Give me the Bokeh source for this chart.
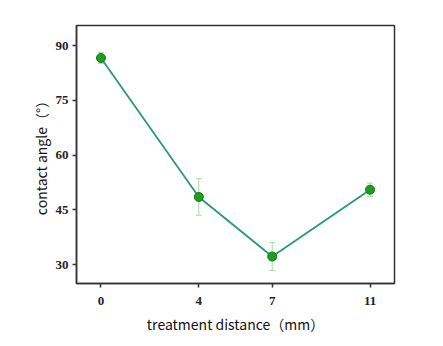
from bokeh.plotting import figure
from bokeh.models import Whisker, ColumnDataSource, FixedTicker, Range1d
from bokeh.embed import file_html
from bokeh.resources import INLINE

distance = [0, 4, 7, 11]
angle = [86.6, 48.5, 32.2, 50.5]
err = [1.5, 5.0, 3.8, 1.8]
x_ticks = [0, 4, 7, 11]
y_ticks = [30, 45, 60, 75, 90]

src = ColumnDataSource(dict(
    x=distance, y=angle,
    lo=[a - e for a, e in zip(angle, err)],
    hi=[a + e for a, e in zip(angle, err)],
))

p = figure(width=443, height=346, output_backend="svg", toolbar_location=None,
           x_range=Range1d(-1.0, 12.0), y_range=Range1d(24.8, 95.5),
           min_border_left=76, min_border_right=49, min_border_top=25, min_border_bottom=63)
p.grid.visible = False
p.outline_line_color = "#333333"
p.outline_line_width = 1.5
p.background_fill_color = "white"
p.border_fill_color = "white"

w = Whisker(source=src, base="x", lower="lo", upper="hi",
            line_color="#a6dca6", line_width=1)
w.upper_head.line_color = "#a6dca6"
w.lower_head.line_color = "#a6dca6"
w.upper_head.size = 6
w.lower_head.size = 6
p.add_layout(w)

p.line("x", "y", source=src, line_color="#2a9a72", line_width=1.8)
p.scatter("x", "y", source=src, size=9, fill_color="#1e9e1e", line_color="#137a13", line_width=1)

for ax in (p.xaxis[0], p.yaxis[0]):
    ax.axis_line_color = "#333333"
    ax.axis_line_width = 1.5
    ax.major_tick_line_color = "#333333"
    ax.major_tick_line_width = 1.5
    ax.major_tick_out = 4
    ax.major_tick_in = 0
    ax.minor_tick_line_color = None
    ax.major_label_text_font = "Liberation Serif"
    ax.major_label_text_font_style = "bold"
    ax.major_label_text_font_size = "13px"
    ax.major_label_text_color = "#222222"
    ax.axis_label_text_font = "Noto Sans CJK SC"
    ax.axis_label_text_font_style = "normal"
    ax.axis_label_text_font_size = "14px"
    ax.axis_label_text_color = "#111111"

p.xaxis.ticker = FixedTicker(ticks=x_ticks)
p.yaxis.ticker = FixedTicker(ticks=y_ticks)
p.xaxis.axis_label = "treatment distance（mm）"
p.yaxis.axis_label = "contact angle（°）"
p.xaxis.axis_label_standoff = 6
p.yaxis.axis_label_standoff = 2
p.xaxis.major_label_standoff = 9
p.yaxis.major_label_standoff = 4

open("out.html", "w").write(file_html(p, INLINE))
